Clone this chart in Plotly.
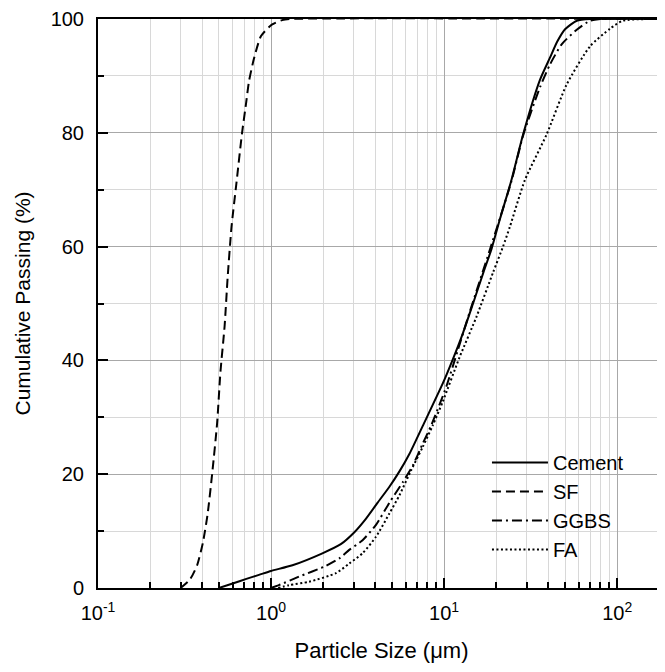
import numpy as np
import plotly.graph_objects as go

# ---- data ----
cement_x = [0.5, 0.6, 0.72, 0.851, 1.0, 1.33, 1.98, 2.53, 3.03, 3.54, 4.13, 4.83, 5.52, 6.31, 7.53, 9.84, 11.2, 12.85, 14.7, 16.8, 18.8, 21.0, 24.5, 28.6, 35.8, 40.9, 45.0, 50.0, 58.4, 70.0, 200.0]
cement_y = [0, 0.8, 1.6, 2.3, 3.0, 4.0, 6.1, 7.7, 9.8, 12.2, 15.0, 17.8, 20.5, 23.6, 28.5, 36.0, 40.1, 44.8, 50.0, 55.3, 59.6, 64.8, 71.7, 79.7, 89.3, 93.2, 96.0, 98.2, 99.7, 100, 100]

sf_x = [0.30, 0.34, 0.374, 0.404, 0.43, 0.459, 0.488, 0.51, 0.539, 0.561, 0.591, 0.63, 0.68, 0.716, 0.745, 0.796, 0.875, 1.01, 1.16, 1.3, 200.0]
sf_y = [0, 1.5, 4.0, 8.0, 13.0, 20.7, 29.0, 38.0, 46.0, 54.5, 63.5, 71.0, 80.0, 85.0, 89.0, 93.0, 97.0, 99.0, 99.8, 100, 100]

ggbs_x = [1.0, 1.11, 1.45, 2.03, 2.48, 2.83, 3.38, 4.04, 4.83, 5.77, 6.59, 7.53, 8.43, 10.3, 12.0, 14.06, 18.4, 24.5, 28.6, 35.8, 40.9, 47.9, 58.4, 69.7, 80.0, 200.0]
ggbs_y = [0, 0.5, 2.0, 3.75, 5.2, 6.7, 8.4, 11.1, 15.0, 18.6, 21.5, 25.4, 28.6, 35.4, 41.8, 48.5, 59.5, 71.5, 79.5, 88.0, 92.0, 95.6, 98.1, 99.7, 100, 100]

fa_x = [1.1, 1.27, 1.66, 2.37, 2.83, 3.38, 4.04, 4.83, 5.52, 6.45, 7.53, 8.6, 9.84, 12.3, 15.4, 19.2, 21.9, 24.0, 29.3, 39.1, 51.1, 69.7, 91.0, 108.0, 200.0]
fa_y = [0, 0.5, 1.1, 2.6, 4.3, 6.1, 9.0, 13.1, 16.3, 20.7, 24.8, 28.6, 32.8, 40.6, 47.7, 55.5, 60.0, 63.5, 71.7, 79.7, 88.5, 95.2, 98.3, 99.7, 100]

series_names = ["Cement", "SF", "GGBS", "FA"]

x_major = [0.1, 1, 10, 100]
x_major_text = ["10<sup>-1</sup>", "10<sup>0</sup>", "10<sup>1</sup>", "10<sup>2</sup>"]
x_minor = [m * d for d in [0.1, 1, 10, 100] for m in range(2, 10)]
y_major = [0, 20, 40, 60, 80, 100]
y_minor = [10, 30, 50, 70, 90]

FONT = "Liberation Sans, Arial, sans-serif"

fig = go.Figure()
dashes = ["solid", "9px,5px", "10px,4px,2px,4px", "2px,2.5px"]
for name, xs, ys, dsh in zip(series_names, [cement_x, sf_x, ggbs_x, fa_x],
                             [cement_y, sf_y, ggbs_y, fa_y], dashes):
    fig.add_trace(go.Scatter(x=xs, y=ys, mode="lines", name=name,
                             line=dict(color="black", width=2, dash=dsh,
                                       shape="spline", smoothing=0.6)))

# white legend box
fig.add_shape(type="rect", xref="paper", yref="y", x0=0.649, x1=1.0, y0=4.9, y1=24.4,
              fillcolor="white", line=dict(width=0), layer="between")

# y-axis title placed as a rotated annotation
fig.add_annotation(text="Cumulative Passing (%)", xref="paper", yref="paper",
                   x=-0.134, y=0.5, xanchor="center", yanchor="middle",
                   textangle=-90, showarrow=False,
                   font=dict(size=21, family=FONT, color="black"))

# page body has an 8px margin, so the figure is shifted to compensate
fig.update_layout(
    width=657, height=664,
    margin=dict(l=90, r=0, t=11, b=84),
    paper_bgcolor="white", plot_bgcolor="white",
    font=dict(family=FONT, size=20, color="black"),
    showlegend=True,
    legend=dict(x=0.686, y=0.2548, xanchor="left", yanchor="top",
                bgcolor="rgba(0,0,0,0)", font=dict(size=20, family=FONT),
                itemwidth=56, tracegroupgap=0),
    xaxis=dict(
        type="log", range=[-1, np.log10(189)], automargin=False,
        tickvals=x_major, ticktext=x_major_text,
        ticks="inside", ticklen=10, tickwidth=2, tickcolor="black",
        showline=True, linecolor="black", linewidth=2, mirror=True,
        showgrid=True, gridcolor="#a8a8a8", gridwidth=1,
        zeroline=False, ticklabelstandoff=6,
        minor=dict(tickvals=x_minor, ticks="inside", ticklen=6, tickwidth=1.5,
                   tickcolor="black", showgrid=True, gridcolor="#d8d8d8", gridwidth=1),
        title=dict(text="Particle Size (μm)", font=dict(size=22, family=FONT), standoff=20),
        tickfont=dict(size=20, family=FONT),
    ),
    yaxis=dict(
        range=[0, 100], tickvals=y_major, automargin=False,
        ticks="inside", ticklen=10, tickwidth=2, tickcolor="black",
        showline=True, linecolor="black", linewidth=2,
        showgrid=True, gridcolor="#a8a8a8", gridwidth=1,
        zeroline=False, ticklabelstandoff=8,
        minor=dict(tickvals=y_minor, ticks="inside", ticklen=6, tickwidth=1.5,
                   tickcolor="black", showgrid=True, gridcolor="#d8d8d8", gridwidth=1),
        tickfont=dict(size=20, family=FONT),
    ),
)

fig.write_html("out.html")
